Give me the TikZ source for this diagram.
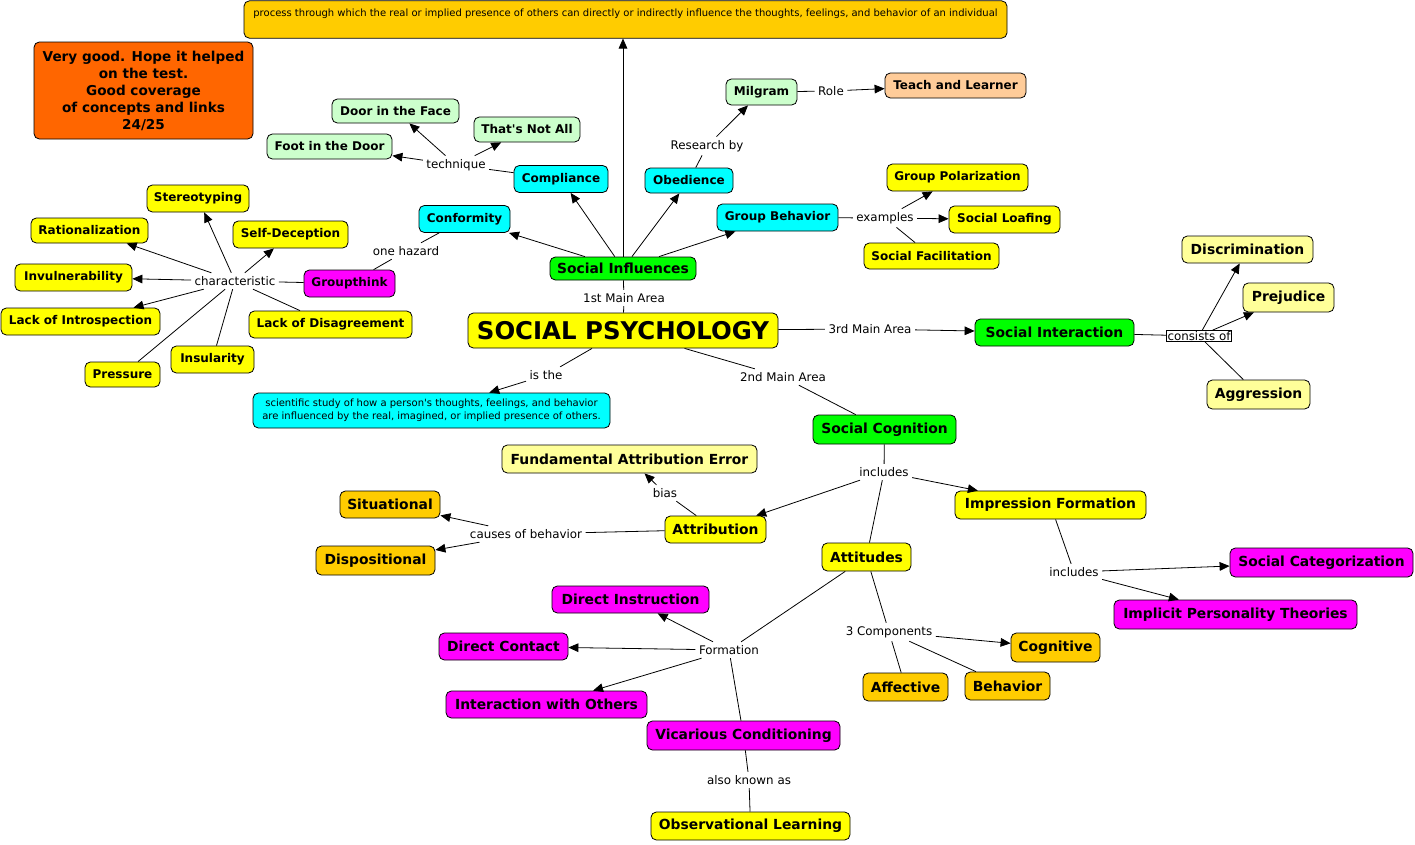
\documentclass[tikz,border=0pt]{standalone}
\usepackage{fontspec}
\setmainfont{DejaVu Sans}[Ligatures=TeXOff]
\usetikzlibrary{arrows.meta}
\definecolor{yel}{HTML}{FFFF00}
\definecolor{paleyel}{HTML}{FFFF99}
\definecolor{cyanbox}{HTML}{00FFFF}
\definecolor{greenbox}{HTML}{00FF00}
\definecolor{magbox}{HTML}{FF00FF}
\definecolor{mint}{HTML}{CCFFCC}
\definecolor{peach}{HTML}{FFCC99}
\definecolor{gold}{HTML}{FFCC00}
\definecolor{orangebox}{HTML}{FF6600}
\begin{document}
\begin{tikzpicture}[x=0.75pt,y=-0.75pt,
  concept/.style={draw=black,line width=0.6pt,rounded corners=4pt,inner sep=1pt,
    font=\bfseries\fontsize{10.4}{12.5}\selectfont},
  small/.style={font=\bfseries\fontsize{9}{10.5}\selectfont},
  wh/.style 2 args={minimum width=#1*0.75pt,minimum height=#2*0.75pt},
  link/.style={inner sep=2.5pt,font=\fontsize{8.9}{10.5}\selectfont},
  line/.style={line width=0.6pt},
  arr/.style={line width=0.6pt,-{Triangle[length=7.5pt,width=6.5pt]}}]
\useasboundingbox (0,0) rectangle (1415,844);
\node[concept,fill=gold,wh={763}{37},inner ysep=5pt,text height=7pt,text depth=11pt,
  font=\fontsize{7.5}{9}\selectfont] (defbox) at (625.5,19.5)
  {process through which the real or implied presence of others can directly or indirectly influence the thoughts, feelings, and behavior of an individual};
\node[concept,fill=orangebox,wh={219}{97},align=center,font=\bfseries\fontsize{10.2}{12.75}\selectfont] (note) at (143.5,90.5)
  {Very good. Hope it helped\\on the test.\\Good coverage\\of concepts and links\\24/25};

\node[concept,fill=greenbox,wh={146}{23}] (socinf) at (623,268.5) {Social Influences};
\node[concept,fill=yel,wh={310}{35},font=\bfseries\fontsize{18.3}{21}\selectfont] (socpsy) at (623,330.5) {SOCIAL PSYCHOLOGY};
\node[concept,fill=cyanbox,small,wh={91}{27}] (conform) at (464.5,219) {Conformity};
\node[concept,fill=cyanbox,small,wh={94}{27}] (comply) at (561,179) {Compliance};
\node[concept,fill=cyanbox,small,wh={88}{25}] (obey) at (689,180.5) {Obedience};
\node[concept,fill=cyanbox,small,wh={121}{27}] (groupbeh) at (777.5,217.5) {Group Behavior};
\node[concept,fill=mint,small,wh={127}{24}] (door) at (395.5,111) {Door in the Face};
\node[concept,fill=mint,small,wh={106}{25}] (thats) at (527,129.5) {That's Not All};
\node[concept,fill=mint,small,wh={125}{25}] (foot) at (329.5,146.5) {Foot in the Door};
\node[concept,fill=mint,small,wh={71}{26}] (milgram) at (761.5,92) {Milgram};
\node[concept,fill=peach,small,wh={141}{25}] (teach) at (955.5,85.5) {Teach and Learner};
\node[concept,fill=yel,small,wh={141}{27}] (grouppol) at (957.5,177.5) {Group Polarization};
\node[concept,fill=yel,small,wh={111}{27}] (loafing) at (1004.5,219.5) {Social Loafing};
\node[concept,fill=yel,small,wh={135}{26}] (facil) at (931.5,256) {Social Facilitation};
\node[concept,fill=magbox,small,wh={91}{27}] (groupthink) at (349.5,283.5) {Groupthink};
\node[concept,fill=yel,small,wh={102}{27}] (stereo) at (198,198.5) {Stereotyping};
\node[concept,fill=yel,small,wh={117}{25}] (ration) at (89.5,230.5) {Rationalization};
\node[concept,fill=yel,small,wh={115}{27}] (selfdec) at (290.5,234.5) {Self-Deception};
\node[concept,fill=yel,small,wh={117}{27}] (invuln) at (73.5,277.5) {Invulnerability};
\node[concept,fill=yel,small,wh={159}{27}] (introsp) at (80.5,321.5) {Lack of Introspection};
\node[concept,fill=yel,small,wh={163}{27}] (disagree) at (330.5,324.5) {Lack of Disagreement};
\node[concept,fill=yel,small,wh={83}{27}] (insular) at (212.5,359.5) {Insularity};
\node[concept,fill=yel,small,wh={75}{25}] (pressure) at (122.5,374.5) {Pressure};
\node[concept,fill=cyanbox,wh={357}{35},align=center,font=\fontsize{7.5}{9.5}\selectfont] (science) at (431.5,410.5)
  {scientific study of how a person's thoughts, feelings, and behavior\\are influenced by the real, imagined, or implied presence of others.};
\node[concept,fill=greenbox,wh={159}{27}] (socint) at (1054.5,332.5) {Social Interaction};
\node[concept,fill=paleyel,wh={131}{27}] (discrim) at (1247.5,249.5) {Discrimination};
\node[concept,fill=paleyel,wh={91}{29}] (prejud) at (1288.5,297.5) {Prejudice};
\node[concept,fill=paleyel,wh={103}{29}] (aggress) at (1258.5,394.5) {Aggression};
\node[concept,fill=greenbox,wh={143}{29}] (soccog) at (884.5,429.5) {Social Cognition};
\node[concept,fill=paleyel,wh={255}{28}] (fae) at (629.5,459) {Fundamental Attribution Error};
\node[concept,fill=yel,wh={101}{27}] (attrib) at (715.5,529.5) {Attribution};
\node[concept,fill=gold,wh={100}{27}] (situat) at (390,504.5) {Situational};
\node[concept,fill=gold,wh={119}{29}] (dispos) at (375.5,560.5) {Dispositional};
\node[concept,fill=yel,wh={191}{28}] (impress) at (1050.5,505) {Impression Formation};
\node[concept,fill=yel,wh={89}{28}] (attit) at (866.5,557) {Attitudes};
\node[concept,fill=magbox,wh={183}{29}] (socat) at (1321.5,562.5) {Social Categorization};
\node[concept,fill=magbox,wh={243}{29}] (implicit) at (1235.5,614.5) {Implicit Personality Theories};
\node[concept,fill=gold,wh={89}{29}] (cognit) at (1055.5,647.5) {Cognitive};
\node[concept,fill=gold,wh={85}{28}] (affect) at (905.5,687) {Affective};
\node[concept,fill=gold,wh={85}{28}] (behav) at (1007.5,686) {Behavior};
\node[concept,fill=magbox,wh={157}{27}] (dirinst) at (630.5,599.5) {Direct Instruction};
\node[concept,fill=magbox,wh={129}{27}] (dircont) at (503.5,646.5) {Direct Contact};
\node[concept,fill=magbox,wh={201}{27}] (interact) at (546.5,704.5) {Interaction with Others};
\node[concept,fill=magbox,wh={193}{29}] (vicar) at (743.5,735.5) {Vicarious Conditioning};
\node[concept,fill=yel,wh={199}{28}] (observ) at (750.5,826) {Observational Learning};

\node[link] (lfirst) at (624,298) {1st Main Area};
\node[link] (lthird) at (870,329) {3rd Main Area};
\node[link] (lsecond) at (783,377) {2nd Main Area};
\node[link] (listhe) at (546,375) {is the};
\node[link] (ltech) at (456,165) {technique};
\node[link] (lresearch) at (707,146) {Research by};
\node[link] (lrole) at (831,91) {Role};
\node[link] (lexamples) at (885,218) {examples};
\node[link] (lhazard) at (406,251) {one hazard};
\node[link] (lchar) at (235,281) {characteristic};
\node[link,draw,fill=white,line width=0.6pt,inner sep=0.6pt] (lconsists) at (1199,336) {consists of};
\node[link] (lincl) at (884,472) {includes};
\node[link] (lbias) at (665,493) {bias};
\node[link] (lcauses) at (526,534) {causes of behavior};
\node[link] (lincltwo) at (1074,572) {includes};
\node[link] (lcomp) at (889,632) {3 Components};
\node[link] (lform) at (729,650) {Formation};
\node[link] (laka) at (749,780) {also known as};

\draw[arr] (socinf) -- (socinf |- defbox.south);
\draw[arr] (socinf) -- (conform);
\draw[arr] (socinf) -- (comply);
\draw[arr] (socinf) -- (obey);
\draw[arr] (socinf) -- (groupbeh);
\draw[line] (socinf) -- (lfirst);
\draw[line] (lfirst) -- (socpsy);
\draw[line] (comply) -- (ltech);
\draw[arr] (ltech) -- (door);
\draw[arr] (ltech) -- (foot);
\draw[arr] (ltech) -- (thats);
\draw[line] (obey) -- (lresearch);
\draw[arr] (lresearch) -- (milgram);
\draw[line] (milgram) -- (lrole);
\draw[arr] (lrole) -- (teach);
\draw[line] (groupbeh) -- (lexamples);
\draw[arr] (lexamples) -- (grouppol);
\draw[arr] (lexamples) -- (loafing);
\draw[line] (lexamples) -- (facil);
\draw[line] (conform) -- (lhazard);
\draw[line] (lhazard) -- (groupthink);
\draw[line] (groupthink) -- (lchar);
\draw[arr] (lchar) -- (stereo);
\draw[arr] (lchar) -- (ration);
\draw[arr] (lchar) -- (invuln);
\draw[arr] (lchar) -- (introsp);
\draw[arr] (lchar) -- (selfdec);
\draw[line] (lchar) -- (disagree);
\draw[line] (lchar) -- (insular);
\draw[line] (lchar) -- (pressure);
\draw[line] (socpsy) -- (listhe);
\draw[arr] (listhe) -- (science);
\draw[line] (socpsy) -- (lsecond);
\draw[line] (lsecond) -- (soccog);
\draw[line] (socpsy) -- (lthird);
\draw[arr] (lthird) -- (socint);
\draw[line] (socint) -- (lconsists);
\draw[arr] (lconsists) -- (discrim);
\draw[arr] (lconsists) -- (prejud);
\draw[line] (lconsists) -- (aggress);
\draw[line] (soccog) -- (lincl);
\draw[arr] (lincl) -- (attrib);
\draw[arr] (lincl) -- (impress);
\draw[line] (lincl) -- (attit);
\draw[line] (attrib) -- (lbias);
\draw[arr] (lbias) -- (fae);
\draw[line] (attrib) -- (lcauses);
\draw[arr] (lcauses) -- (situat);
\draw[arr] (lcauses) -- (dispos);
\draw[line] (impress) -- (lincltwo);
\draw[arr] (lincltwo) -- (socat);
\draw[arr] (lincltwo) -- (implicit);
\draw[line] (attit) -- (lcomp);
\draw[arr] (lcomp) -- (cognit);
\draw[line] (lcomp) -- (affect);
\draw[line] (lcomp) -- (behav);
\draw[line] (attit) -- (lform);
\draw[arr] (lform) -- (dirinst);
\draw[arr] (lform) -- (dircont);
\draw[arr] (lform) -- (interact);
\draw[line] (lform) -- (vicar);
\draw[line] (vicar) -- (laka);
\draw[line] (laka) -- (observ);
\end{tikzpicture}
\end{document}
